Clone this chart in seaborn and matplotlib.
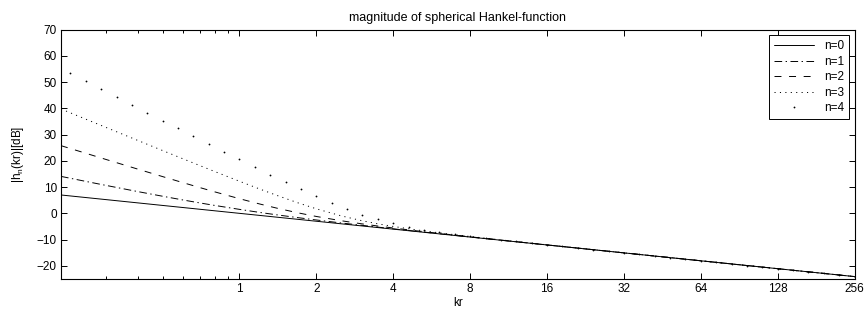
import numpy as np
import pandas as pd
import matplotlib
matplotlib.use("Agg")
import matplotlib.pyplot as plt
import seaborn as sns
from matplotlib.ticker import FixedLocator, NullFormatter

# kr samples of the continuous curves
kr_line = [0.2, 0.25, 0.3, 0.4, 0.5, 0.6, 0.7, 0.8, 1, 1.2, 1.4, 1.7, 2, 2.5, 3, 3.5,
           4, 5, 6, 7, 8, 10, 12, 16, 24, 32, 64, 128, 256]
n0_db = [6.99, 6.02, 5.23, 3.98, 3.01, 2.22, 1.55, 0.97, 0.00, -0.79, -1.46, -2.30, -3.01,
         -3.98, -4.77, -5.44, -6.02, -6.99, -7.78, -8.45, -9.03, -10.00, -10.79, -12.04,
         -13.80, -15.05, -18.06, -21.07, -24.08]
n1_db = [14.07, 12.17, 10.64, 8.28, 6.51, 5.10, 3.96, 3.01, 1.51, 0.35, -0.57, -1.66, -2.53,
         -3.66, -4.54, -5.27, -5.89, -6.90, -7.72, -8.41, -9.00, -9.98, -10.78, -12.03,
         -13.80, -15.05, -18.06, -21.07, -24.08]
n2_db = [25.77, 22.88, 20.52, 16.83, 13.99, 11.70, 9.80, 8.18, 5.57, 3.56, 1.98, 0.16, -1.19,
         -2.81, -3.97, -4.86, -5.58, -6.72, -7.59, -8.31, -8.93, -9.93, -10.75, -12.02,
         -13.79, -15.05, -18.06, -21.07, -24.08]
n3_db = [39.74, 35.87, 32.72, 27.75, 23.91, 20.79, 18.17, 15.92, 12.21, 9.26, 6.84, 3.95, 1.72,
         -0.95, -2.76, -4.03, -4.99, -6.38, -7.37, -8.16, -8.81, -9.86, -10.70, -11.99,
         -13.78, -15.04, -18.06, -21.07, -24.08]

# kr samples of the dotted n=4 curve
kr_dots = [0.2176, 0.25, 0.2872, 0.3299, 0.3789, 0.4353, 0.5, 0.5743, 0.6598, 0.7579, 0.8706,
           1, 1.149, 1.320, 1.516, 1.741, 2, 2.297, 2.639, 3.031, 3.482, 4, 4.595, 5.278,
           6.063, 6.964, 8, 9.190, 10.56, 12.13, 13.93, 16, 18.38, 21.11, 24.25, 27.86, 32,
           36.76, 42.22, 48.50, 55.72, 64, 73.52, 84.45, 97.01, 111.4, 128, 147.0, 168.9,
           194.0, 222.9, 256]
n4_db = [53.34, 50.33, 47.33, 44.33, 41.33, 38.33, 35.34, 32.36, 29.38, 26.41, 23.46,
         20.53, 17.62, 14.75, 11.92, 9.16, 6.50, 3.96, 1.60, -0.51, -2.34, -3.86, -5.12,
         -6.17, -7.08, -7.89, -8.64, -9.35, -10.02, -10.68, -11.32, -11.95, -12.58, -13.20,
         -13.81, -14.42, -15.03, -15.64, -16.24, -16.85, -17.45, -18.06, -18.66, -19.26,
         -19.87, -20.47, -21.07, -21.67, -22.28, -22.88, -23.48, -24.08]

xtick_vals = [1, 2, 4, 8, 16, 32, 64, 128, 256]
xtick_labels = ["1", "2", "4", "8", "16", "32", "64", "128", "256"]
xminor_vals = [0.3, 0.4, 0.5, 0.6, 0.7, 0.8, 0.9]

sns.set_style("ticks")
plt.rcParams["font.family"] = ["Liberation Sans", "DejaVu Sans"]
plt.rcParams["mathtext.default"] = "regular"
plt.rcParams["lines.scale_dashes"] = False
plt.rcParams["axes.edgecolor"] = "black"
plt.rcParams["text.color"] = "black"
plt.rcParams["axes.labelcolor"] = "black"
plt.rcParams["xtick.color"] = "black"
plt.rcParams["ytick.color"] = "black"

fig = plt.figure(figsize=(8.67, 3.10), dpi=100)
ax = fig.add_axes([61 / 867, 1 - 279 / 310, (854.5 - 61) / 867, (279 - 29.5) / 310])

fs = 8.5
lw = 0.7
sns.lineplot(x=kr_line, y=n0_db, color="k", lw=lw, label="n=0", ax=ax)
sns.lineplot(x=kr_line, y=n1_db, color="k", lw=lw, linestyle=(0, (5.5, 2.5, 1, 2.5)),
             label="n=1", ax=ax)
sns.lineplot(x=kr_line, y=n2_db, color="k", lw=lw, linestyle=(0, (5, 5.5)), label="n=2", ax=ax)
sns.lineplot(x=kr_line, y=n3_db, color="k", lw=lw, linestyle=(0, (0.8, 3.1)), label="n=3", ax=ax)
sns.lineplot(x=kr_dots, y=n4_db, color="k", linestyle="", marker=".", markersize=2.6,
             markeredgewidth=0, markerfacecolor="k", label="n=4", ax=ax)

ax.set_xscale("log")
ax.set_xlim(0.2, 256)
ax.set_ylim(-25, 70)
ax.xaxis.set_major_locator(FixedLocator(xtick_vals))
ax.set_xticklabels(xtick_labels)
ax.xaxis.set_minor_locator(FixedLocator(xminor_vals))
ax.xaxis.set_minor_formatter(NullFormatter())
ax.set_yticks(range(-20, 71, 10))

ax.tick_params(which="both", direction="in", top=True, right=True, labelsize=fs,
               width=0.7, color="k", labelcolor="k", pad=3)
ax.tick_params(which="major", length=4)
ax.tick_params(which="minor", length=2.5)
for s in ax.spines.values():
    s.set_linewidth(0.8)
    s.set_color("k")

ax.set_title("magnitude of spherical Hankel-function", fontsize=9, pad=6, color="k")
ax.set_xlabel("kr", fontsize=fs, labelpad=1, color="k")
ax.set_ylabel("|h$_n$(kr)|[dB]", fontsize=fs, labelpad=8, color="k")

leg = ax.legend(loc="upper right", fontsize=fs, handlelength=3.4, labelspacing=0.3,
                borderaxespad=0.5, fancybox=False, framealpha=1, edgecolor="k")
leg.get_frame().set_linewidth(0.7)
for t in leg.get_texts():
    t.set_color("k")

fig.savefig("out.png", dpi=100)
